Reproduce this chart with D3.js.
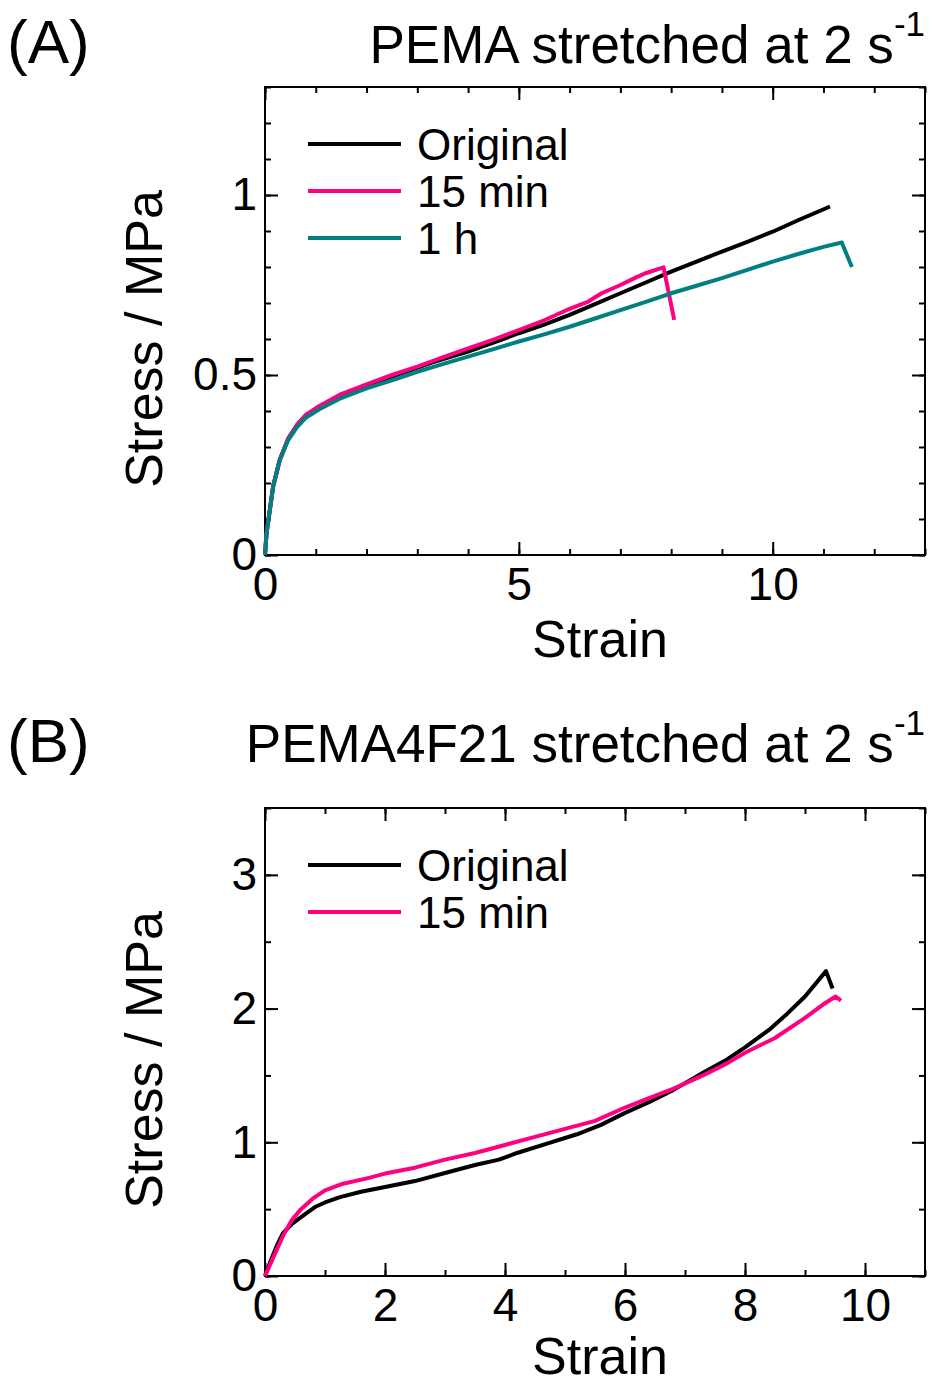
<!DOCTYPE html>
<html>
<head>
<meta charset="utf-8">
<script src="https://cdn.jsdelivr.net/npm/d3@7"></script>
<style>
  body { margin: 0; background: #fff; }
  svg { display: block; font-family: "Liberation Sans", Arial, sans-serif; }
</style>
</head>
<body>
<svg id="fig" width="932" height="1385"></svg>
<script>
// Panel A: PEMA, [strain, stress in MPa]
const pemaOriginal = [[0,0],[0.03,0.06],[0.07,0.1],[0.16,0.19],[0.29,0.264],[0.46,0.324],[0.63,0.361],[0.81,0.389],[1.07,0.412],[1.5,0.444],[2.0,0.472],[2.7,0.505],[3.3,0.535],[4,0.565],[4.5,0.59],[5,0.616],[5.5,0.64],[6,0.667],[6.5,0.697],[7,0.727],[7.5,0.757],[8,0.787],[8.5,0.815],[9,0.843],[9.5,0.87],[10,0.898],[10.5,0.93],[11.13,0.968]];
const pema15min = [[0,0],[0.03,0.06],[0.07,0.1],[0.16,0.19],[0.29,0.264],[0.46,0.324],[0.63,0.361],[0.81,0.39],[1.07,0.414],[1.5,0.447],[2,0.474],[2.5,0.5],[3,0.523],[3.5,0.549],[4,0.574],[4.5,0.598],[5,0.625],[5.5,0.652],[6,0.684],[6.37,0.704],[6.63,0.727],[7,0.75],[7.28,0.769],[7.48,0.782],[7.85,0.799],[8.06,0.653]];
const pema1h = [[0,0],[0.03,0.06],[0.07,0.1],[0.16,0.19],[0.29,0.264],[0.46,0.32],[0.63,0.355],[0.81,0.382],[1.07,0.405],[1.5,0.436],[2,0.463],[2.5,0.485],[3,0.509],[3.5,0.53],[4,0.551],[4.5,0.572],[5,0.593],[5.5,0.613],[6,0.634],[6.5,0.657],[7,0.68],[7.5,0.703],[8,0.727],[8.5,0.748],[9,0.769],[9.5,0.792],[10,0.815],[10.5,0.836],[11,0.856],[11.36,0.868],[11.56,0.80]];

// Panel B: PEMA4F21
const fOriginal = [[0,0],[0.1,0.12],[0.2,0.23],[0.3,0.32],[0.45,0.39],[0.6,0.44],[0.85,0.52],[1.0,0.55],[1.25,0.59],[1.6,0.63],[2,0.666],[2.5,0.71],[3,0.77],[3.5,0.83],[3.9,0.87],[4.2,0.92],[4.7,0.99],[5.2,1.06],[5.6,1.13],[6,1.22],[6.4,1.3],[6.8,1.39],[7.3,1.52],[7.7,1.62],[8,1.71],[8.4,1.84],[8.7,1.96],[9.0,2.09],[9.35,2.28],[9.46,2.15]];
const f15min = [[0,0],[0.15,0.15],[0.3,0.3],[0.45,0.42],[0.6,0.5],[0.8,0.58],[1.0,0.64],[1.3,0.69],[1.7,0.73],[2,0.766],[2.5,0.81],[3,0.87],[3.5,0.92],[4,0.98],[4.5,1.04],[5,1.1],[5.5,1.16],[6,1.26],[6.4,1.33],[6.8,1.4],[7.3,1.5],[7.7,1.59],[8,1.67],[8.5,1.78],[9,1.93],[9.3,2.03],[9.51,2.09],[9.6,2.06]];

const xTicksA = [0, 5, 10];
const yTicksA = [0, 0.5, 1];
const xTicksB = [0, 2, 4, 6, 8, 10];
const yTicksB = [0, 1, 2, 3];

const colors = { orig: '#000000', m15: '#ff0080', h1: '#008080' };

const svg = d3.select('#fig');
const left = 265, right = 925;

function drawPanel(p) {
  const w = right - left, h = p.bottom - p.top;
  const x = d3.scaleLinear().domain(p.xDomain).range([0, w]);
  const y = d3.scaleLinear().domain(p.yDomain).range([h, 0]);
  const g = svg.append('g').attr('transform', `translate(${left},${p.top})`);

  // ticks point inward on all four sides, minor + major
  const minorX = d3.range(p.xDomain[0], p.xDomain[1] + 1e-9, p.xMinor);
  const minorY = d3.range(p.yDomain[0], p.yDomain[1] + 1e-9, p.yMinor);
  const sides = [
    [() => d3.axisBottom(x), `translate(0,${h})`, minorX, p.xTicks],
    [() => d3.axisTop(x), 'translate(0,0)', minorX, p.xTicks],
    [() => d3.axisLeft(y), 'translate(0,0)', minorY, p.yTicks],
    [() => d3.axisRight(y), `translate(${w},0)`, minorY, p.yTicks]
  ];
  sides.forEach(([mk, tr, minors, majors], i) => {
    const gm = g.append('g').attr('transform', tr)
      .call(mk().tickValues(minors).tickSizeInner(-6).tickSizeOuter(0).tickFormat(''));
    const gM = g.append('g').attr('transform', tr)
      .call(mk().tickValues(majors).tickSizeInner(-13).tickSizeOuter(0)
        .tickPadding(i === 0 ? 12 : 8).tickFormat(i === 0 || i === 2 ? d => d : ''));
    [gm, gM].forEach(s => {
      s.attr('font-family', null).attr('font-size', 46);
      s.select('.domain').remove();
      s.selectAll('line').attr('stroke', '#000').attr('stroke-width', 2);
      s.selectAll('text').attr('fill', '#000');
    });
  });

  g.append('rect').attr('width', w).attr('height', h)
    .attr('fill', 'none').attr('stroke', '#000').attr('stroke-width', 2);

  // curves
  const line = d3.line().x(d => x(d[0])).y(d => y(d[1]));
  p.series.forEach(s => {
    g.append('path').datum(s.data).attr('d', line)
      .attr('fill', 'none').attr('stroke', s.color).attr('stroke-width', 4)
      .attr('stroke-linejoin', 'round');
  });

  // legend
  p.series.forEach((s, i) => {
    const ly = 57 + i * 47;
    g.append('line').attr('x1', 43).attr('x2', 136).attr('y1', ly).attr('y2', ly)
      .attr('stroke', s.color).attr('stroke-width', 4);
    g.append('text').attr('x', 152).attr('y', ly).attr('dy', '0.36em')
      .attr('font-size', 44).text(s.name);
  });

  // axis labels
  svg.append('text').attr('x', 600).attr('y', p.bottom + p.xLabelGap)
    .attr('text-anchor', 'middle').attr('font-size', 52).text('Strain');
  svg.append('text').attr('transform', `translate(162,${(p.top + p.bottom) / 2 + 18}) rotate(-90)`)
    .attr('text-anchor', 'middle').attr('font-size', 52).text('Stress / MPa');

  // panel letter and title
  svg.append('text').attr('x', 7).attr('y', p.titleY).attr('font-size', 62).text(p.letter);
  const t = svg.append('text').attr('x', 925).attr('y', p.titleY)
    .attr('text-anchor', 'end').attr('font-size', 53);
  t.append('tspan').text(p.title);
  t.append('tspan').attr('dy', -27).attr('font-size', 35).text('-1');
}

drawPanel({
  top: 87, bottom: 555, titleY: 63, letter: '(A)', title: 'PEMA stretched at 2 s', xLabelGap: 102,
  xDomain: [0, 13], xTicks: xTicksA, xMinor: 1,
  yDomain: [0, 1.3], yTicks: yTicksA, yMinor: 0.1,
  series: [
    { name: 'Original', data: pemaOriginal, color: colors.orig },
    { name: '15 min', data: pema15min, color: colors.m15 },
    { name: '1 h', data: pema1h, color: colors.h1 }
  ]
});

drawPanel({
  top: 808, bottom: 1276, titleY: 762, letter: '(B)', title: 'PEMA4F21 stretched at 2 s', xLabelGap: 98,
  xDomain: [0, 11], xTicks: xTicksB, xMinor: 1,
  yDomain: [0, 3.5], yTicks: yTicksB, yMinor: 0.5,
  series: [
    { name: 'Original', data: fOriginal, color: colors.orig },
    { name: '15 min', data: f15min, color: colors.m15 }
  ]
});
</script>
</body>
</html>
